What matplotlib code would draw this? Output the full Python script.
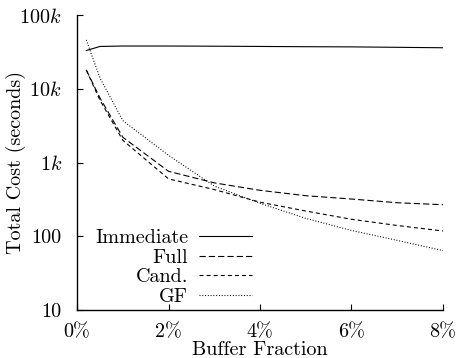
import matplotlib
matplotlib.use("Agg")
import matplotlib.pyplot as plt

plt.rcParams['font.family'] = ['cmr10', 'DejaVu Serif']
plt.rcParams['mathtext.fontset'] = 'cm'
plt.rcParams['axes.unicode_minus'] = False
plt.rcParams['lines.scale_dashes'] = False

# Data (buffer fraction in %, total cost in seconds)
x_imm = [0.2, 0.5, 1, 2, 3, 4, 5, 6, 7, 8]
immediate = [33000, 37500, 38000, 38000, 37800, 37500, 37200, 37000, 36500, 36000]

x_other = [0.2, 0.5, 1, 2, 3, 4, 5, 6, 7, 8]
full = [18000, 7500, 2200, 760, 530, 420, 355, 320, 285, 268]
cand = [18000, 7000, 2000, 600, 430, 290, 220, 170, 140, 118]
gf = [46000, 14000, 3700, 1250, 480, 280, 175, 120, 88, 64]

series_labels = ["Immediate", "Full", "Cand.", "GF"]
xticks = [0, 2, 4, 6, 8]
xticklabels = ["0%", "2%", "4%", "6%", "8%"]
yticks = [10, 100, 1000, 10000, 100000]
yticklabels = ["10", "100", "1$k$", "10$k$", "100$k$"]

FS = 14.5

fig = plt.figure(figsize=(4.59, 3.58), dpi=100)
ax = fig.add_axes([0.168, 0.134, 0.797, 0.824])

lw = 0.8
ax.plot(x_imm, immediate, color='black', lw=lw, ls='-', label=series_labels[0])
ax.plot(x_other, full, color='black', lw=lw, dashes=(4.5, 2.2), label=series_labels[1])
ax.plot(x_other, cand, color='black', lw=lw, dashes=(2.9, 2.2), label=series_labels[2])
ax.plot(x_other, gf, color='black', lw=lw, dashes=(0.7, 1.3), label=series_labels[3])

ax.set_yscale('log')
ax.set_xlim(0, 8)
ax.set_ylim(10, 100000)
ax.set_xticks(xticks)
ax.set_xticklabels(xticklabels)
ax.set_yticks(yticks)
ax.set_yticklabels(yticklabels)
ax.minorticks_off()
ax.tick_params(direction='in', length=4, width=0.8, labelsize=FS)
ax.tick_params(axis='y', pad=11)
ax.tick_params(axis='x', pad=9.5)

for s in ['top', 'right']:
    ax.spines[s].set_visible(False)
for s in ['left', 'bottom']:
    ax.spines[s].set_linewidth(1.0)

ax.set_xlabel("Buffer Fraction", fontsize=FS, labelpad=-0.3)
ax.set_ylabel("Total Cost (seconds)", fontsize=FS)
ax.yaxis.set_label_coords(-0.139, 0.5)

leg = ax.legend(loc='lower left', bbox_to_anchor=(0.022, -0.02), frameon=False,
                markerfirst=False, fontsize=FS, handlelength=2.6,
                handletextpad=0.55, labelspacing=0.07, borderaxespad=0.3,
                borderpad=0.2)

fig.savefig("out.png", dpi=100)
